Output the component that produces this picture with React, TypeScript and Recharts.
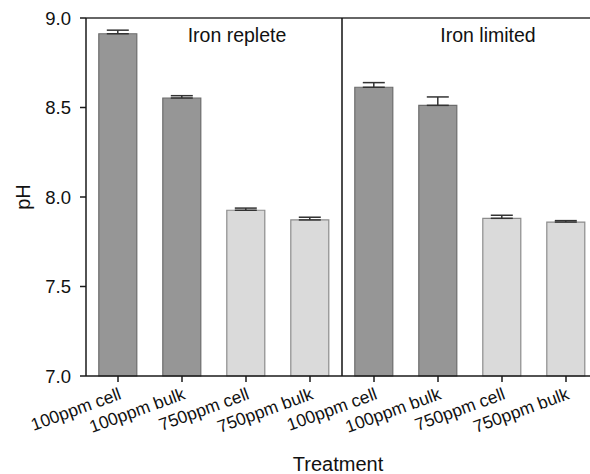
import React from 'react';
import { BarChart, Bar, XAxis, YAxis, ErrorBar, Cell, ReferenceLine, ReferenceDot } from 'recharts';

const ironStatus = ['Iron replete', 'Iron replete', 'Iron replete', 'Iron replete', 'Iron limited', 'Iron limited', 'Iron limited', 'Iron limited'];
const treatments = ['100ppm cell', '100ppm bulk', '750ppm cell', '750ppm bulk', '100ppm cell', '100ppm bulk', '750ppm cell', '750ppm bulk'];
const co2Levels = ['100ppm', '100ppm', '750ppm', '750ppm', '100ppm', '100ppm', '750ppm', '750ppm'];
const phMeans = [8.912, 8.553, 7.926, 7.872, 8.613, 8.512, 7.881, 7.86];
const phErrors = [0.02, 0.013, 0.012, 0.015, 0.026, 0.047, 0.017, 0.008];
const yTicks = [7.0, 7.5, 8.0, 8.5, 9.0];
const panelLabels = ['Iron replete', 'Iron limited'];
const panelLabelY = 8.905;

const fillByCo2: Record<string, string> = { '100ppm': '#969696', '750ppm': '#dadada' };
const strokeByCo2: Record<string, string> = { '100ppm': '#6c6c6c', '750ppm': '#8c8c8c' };

const data = treatments.map((t, i) => ({
  key: `${ironStatus[i]}|${t}`,
  name: t,
  ph: phMeans[i],
  err: [0, phErrors[i]],
  co2: co2Levels[i],
}));

// first category of the "Iron limited" panel (divider sits at its band start)
const dividerKey = data[4].key;
// label anchors: third category of each panel, shifted left a little
const labelKeys = [data[2].key, data[6].key];
const labelDx = [-9, -14];

const FONT = 'Liberation Sans, Arial, Helvetica, sans-serif';

export default function App() {
  return (
    <div style={{ position: 'absolute', top: 0, left: 0, width: 590, height: 474, overflow: 'hidden', background: '#fff' }}>
      <BarChart
        width={600}
        height={474}
        data={data}
        margin={{ top: 18, right: 2, left: 0, bottom: 0 }}
        barCategoryGap="20%"
        style={{ fontFamily: FONT }}
      >
        <XAxis
          dataKey="key"
          interval={0}
          height={98}
          angle={-20}
          textAnchor="end"
          tickSize={6}
          tickMargin={5}
          tickFormatter={(v: string) => String(v).split('|')[1]}
          tick={{ fontSize: 17.5, fill: '#111' }}
          axisLine={{ stroke: '#1a1a1a', strokeWidth: 1.5 }}
          tickLine={{ stroke: '#1a1a1a', strokeWidth: 1.5 }}
          label={{ value: 'Treatment', position: 'insideBottom', offset: 3, dx: -4, fontSize: 20, fill: '#111' }}
        />
        <YAxis
          type="number"
          domain={[7, 9]}
          ticks={yTicks}
          width={86}
          tickSize={6}
          tickMargin={9}
          tickFormatter={(v: number) => v.toFixed(1)}
          tick={{ fontSize: 18.5, fill: '#111' }}
          axisLine={{ stroke: '#1a1a1a', strokeWidth: 1.5 }}
          tickLine={{ stroke: '#1a1a1a', strokeWidth: 1.5 }}
          label={{
            content: (props: any) => {
              const vb = props.viewBox || { x: 0, y: 0, width: 86, height: 358 };
              const cx = vb.x + 23;
              const cy = vb.y + vb.height / 2;
              return (
                <text
                  x={cx}
                  y={cy}
                  transform={`rotate(-90, ${cx}, ${cy})`}
                  textAnchor="middle"
                  dominantBaseline="central"
                  fontSize={20}
                  fill="#111"
                  fontFamily={FONT}
                >
                  pH
                </text>
              );
            },
          }}
        />
        <ReferenceLine y={9} stroke="#333" strokeWidth={1.5} />
        <ReferenceLine x={dividerKey} position="start" stroke="#111" strokeWidth={1.5} />
        <Bar dataKey="ph" isAnimationActive={false} strokeWidth={1.2}>
          {data.map((d, i) => (
            <Cell key={i} fill={fillByCo2[d.co2]} stroke={strokeByCo2[d.co2]} />
          ))}
          <ErrorBar dataKey="err" width={11} stroke="#333" strokeWidth={1.5} direction="y" />
        </Bar>
        {panelLabels.map((lab, i) => (
          <ReferenceDot
            key={lab}
            x={labelKeys[i]}
            y={panelLabelY}
            r={0}
            fill="none"
            stroke="none"
            label={{ value: lab, position: 'center', dx: labelDx[i], fontSize: 19.5, fill: '#111' }}
          />
        ))}
      </BarChart>
    </div>
  );
}
